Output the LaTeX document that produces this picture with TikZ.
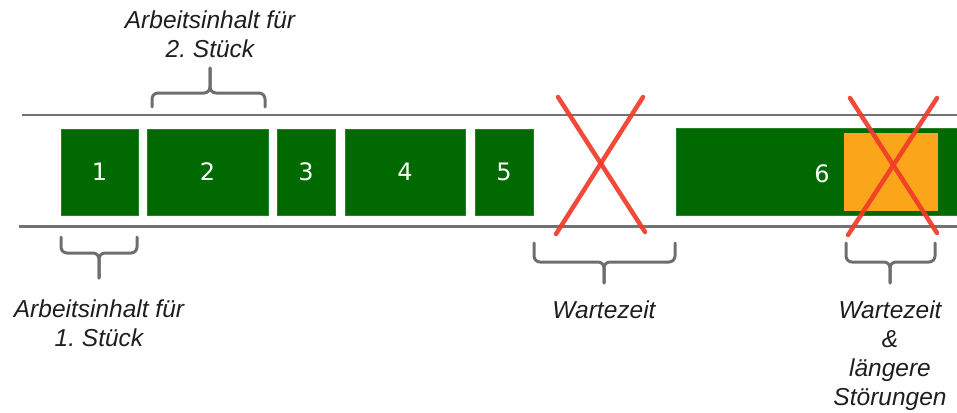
\documentclass[tikz,border=0pt]{standalone}
\usepackage{fontspec}
\setmainfont{Liberation Sans}
\newfontfamily\numfont{DejaVu Sans}
\frenchspacing
\definecolor{workgreen}{HTML}{006A00}
\definecolor{railgray}{HTML}{727272}
\definecolor{bracegray}{HTML}{6E6E6E}
\definecolor{crossred}{HTML}{F03B29}
\definecolor{faultorange}{HTML}{FBA51A}
\definecolor{labelink}{HTML}{1E1E1E}
\tikzset{
  rail/.style={draw=railgray, line width=2.4pt},
  workbox/.style={fill=workgreen, draw=workgreen!85!white, line width=0.6pt,
    inner sep=0pt, text=white, font=\numfont\fontsize{24}{28}\selectfont},
  faultbox/.style={fill=faultorange, inner sep=0pt},
  bracket/.style={draw=bracegray, line width=3pt, rounded corners=6pt, line cap=round},
  cross/.style={draw=crossred, line width=4.5pt, line cap=round, opacity=0.92},
  caption/.style={text=labelink, align=center, inner sep=0pt,
    font=\itshape\fontsize{24.5}{29}\selectfont},
}
\begin{document}
\begin{tikzpicture}[x=1pt, y=-1pt]
  \useasboundingbox (0,0) rectangle (957,412);
  \clip (0,0) rectangle (957,412);

  % conveyor rails
  \coordinate (railTL) at (22,115);
  \coordinate (railTR) at (957,115);
  \coordinate (railBL) at (19,226.5);
  \coordinate (railBR) at (957,226.5);
  \draw[rail] (railTL) -- (railTR);
  \draw[rail] (railBL) -- (railBR);

  % work content per piece
  \node[workbox, minimum width=77pt, minimum height=86pt] (b1) at (99.5,172) {1};
  \node[workbox, minimum width=121pt, minimum height=86pt] (b2) at (207.5,172) {2};
  \node[workbox, minimum width=58pt, minimum height=86pt] (b3) at (306,172) {3};
  \node[workbox, minimum width=120pt, minimum height=86pt] (b4) at (405,172) {4};
  \node[workbox, minimum width=58pt, minimum height=86pt] (b5) at (504,172) {5};
  \node[workbox, minimum width=300pt, minimum height=87pt] (b6) at (826,172) {};
  \node[faultbox, minimum width=94pt, minimum height=78pt] (f6) at (891,172) {};
  \node[text=white, font=\numfont\fontsize{24}{28}\selectfont, inner sep=0pt] (n6) at (822,174) {6};

  % crossed-out waiting times
  \draw[cross] (558,97) -- (645,232);
  \draw[cross] (643,97) -- (556,234);
  \draw[cross] (850,98) -- (937,233);
  \draw[cross] (937,98) -- (848,235);

  % bracket above piece 2
  \draw[bracket] (152,107) -- (152,93) -- (210,93) -- (210,68);
  \draw[bracket] (265,107) -- (265,93) -- (210,93) -- (210,68);
  % bracket below piece 1
  \draw[bracket] (61,237) -- (61,253) -- (99,253) -- (99,278);
  \draw[bracket] (137,237) -- (137,253) -- (99,253) -- (99,278);
  % bracket below the gap
  \draw[bracket] (534,243) -- (534,262) -- (604,262) -- (604,283);
  \draw[bracket] (675,243) -- (675,262) -- (604,262) -- (604,283);
  % bracket below the disturbance
  \draw[bracket] (846,243) -- (846,262) -- (890,262) -- (890,283);
  \draw[bracket] (935,243) -- (935,262) -- (890,262) -- (890,283);

  % captions (anchored at the baseline of their last line)
  \node[caption, anchor=base] (c2) at (210,58) {Arbeitsinhalt für\\2. Stück};
  \node[caption, anchor=base] (c1) at (99,346) {Arbeitsinhalt für\\1. Stück};
  \node[caption, anchor=base] (cw) at (604,318) {Wartezeit};
  \node[caption, anchor=base] (cs) at (890,405) {Wartezeit\\\&\\längere\\Störungen};
\end{tikzpicture}
\end{document}
